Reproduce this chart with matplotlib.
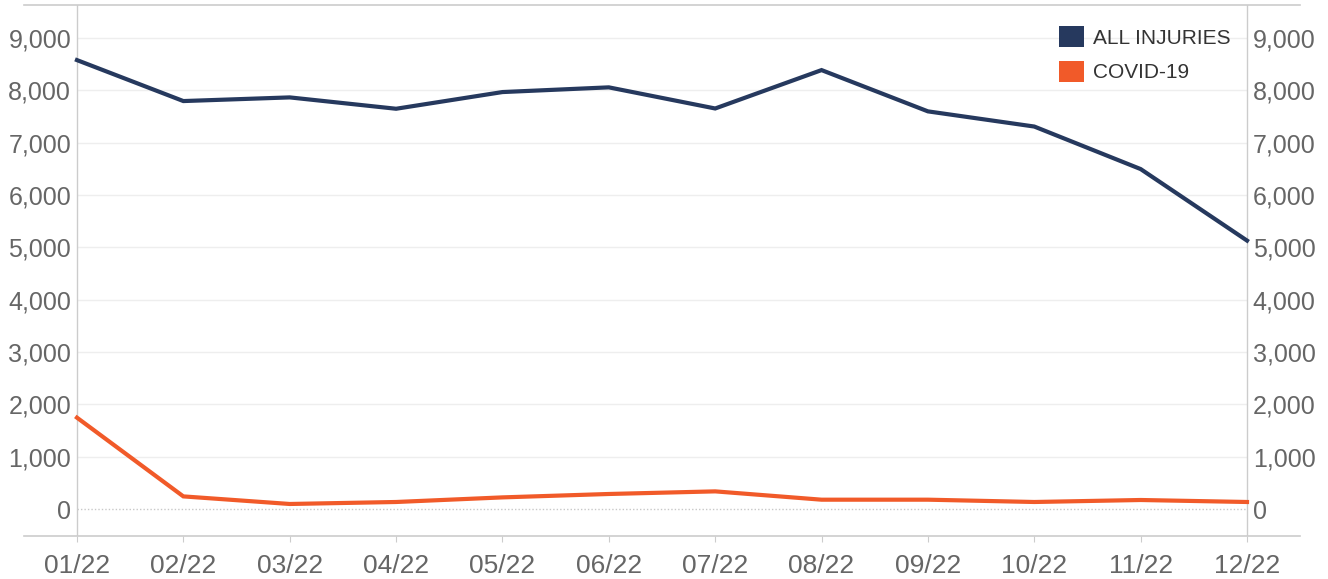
import matplotlib
matplotlib.use("Agg")
import matplotlib.pyplot as plt
from matplotlib.patches import Patch
from matplotlib.ticker import FuncFormatter

months = ["01/22", "02/22", "03/22", "04/22", "05/22", "06/22",
          "07/22", "08/22", "09/22", "10/22", "11/22", "12/22"]
all_injuries = [8580, 7797, 7867, 7650, 7969, 8059, 7655, 8389, 7600, 7310, 6497, 5130]
covid = [1746, 241, 96, 134, 222, 287, 337, 178, 178, 134, 172, 134]
yticks = [0, 1000, 2000, 3000, 4000, 5000, 6000, 7000, 8000, 9000]

NAVY = "#26395e"
ORANGE = "#f15a29"
LINE = "#cccccc"
GRID = "#eeeeee"
TXT = "#666666"

plt.rcParams['font.family'] = ['Liberation Sans', 'DejaVu Sans']

W, H = 1328, 579
fig = plt.figure(figsize=(W / 100, H / 100), dpi=100)
x0, x1, yb, yt = 24, 1300, 536, 5
ax = fig.add_axes([x0 / W, 1 - yb / H, (x1 - x0) / W, (yb - yt) / H])

x = list(range(len(months)))
ax.set_xlim(-0.498, len(months) - 1 + 0.498)
ax.set_ylim(-516, 9633)

# gridlines between first and last month
for v in yticks:
    if v == 0:
        ax.hlines(v, 0, len(months) - 1, colors="#c8c8c8", linewidth=1,
                  linestyles=(0, (1, 1.5)), zorder=1)
    else:
        ax.hlines(v, 0, len(months) - 1, colors=GRID, linewidth=1, zorder=1)
ax.axvline(0, color=LINE, linewidth=1, zorder=1)
ax.axvline(len(months) - 1, color=LINE, linewidth=1, zorder=1)

ax.plot(x, all_injuries, color=NAVY, linewidth=3, solid_joinstyle="miter", zorder=3)
ax.plot(x, covid, color=ORANGE, linewidth=3, solid_joinstyle="miter", zorder=3)

for s in ["left", "right"]:
    ax.spines[s].set_visible(False)
for s in ["top", "bottom"]:
    ax.spines[s].set_color(LINE)
    ax.spines[s].set_linewidth(1.2)

ax.set_xticks(x)
ax.set_xticklabels(months)
ax.tick_params(axis="x", length=4, color=LINE, pad=9, labelsize=19, labelcolor=TXT)

ax.set_yticks(yticks)
ax.yaxis.set_major_formatter(FuncFormatter(lambda v, p: f"{int(v):,}"))
ax.tick_params(axis="y", length=0, pad=-34, labelsize=18, labelcolor=TXT,
               labelleft=True, labelright=True)

handles = [Patch(facecolor=NAVY, edgecolor="none"), Patch(facecolor=ORANGE, edgecolor="none")]
fs = 15
leg = fig.legend(handles, ["ALL INJURIES", "COVID-19"], loc="upper left",
                 bbox_to_anchor=(1059 / W, 1 - 26 / H), frameon=False,
                 fontsize=fs, handlelength=1.2, handleheight=1.2,
                 handletextpad=0.42, labelspacing=0.62, borderpad=0,
                 borderaxespad=0)
for t in leg.get_texts():
    t.set_color("#333333")

fig.savefig("out.png", dpi=100)
